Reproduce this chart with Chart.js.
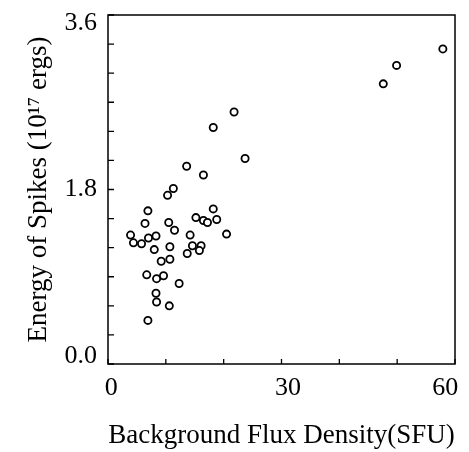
<!DOCTYPE html>
<html>
<head>
<meta charset="utf-8">
<script src="https://cdn.jsdelivr.net/npm/chart.js@4"></script>
<style>
html,body{margin:0;padding:0;background:#fff;}
#wrap{width:469px;height:452px;}
</style>
</head>
<body>
<div id="wrap"><canvas id="c" width="469" height="452"></canvas></div>
<script>
// Background flux density (SFU)
const fluxValues = [3.9, 4.4, 5.8, 7.0, 8.3, 8.0, 6.4, 6.9, 10.5, 11.5, 10.7, 9.2, 10.7, 6.7, 8.4, 9.6, 12.3, 8.3, 8.4, 10.6, 6.9,
  10.3, 11.3, 13.6, 16.5, 18.2, 21.8, 23.7, 15.2, 18.2, 16.5, 17.2, 18.8, 14.2, 20.5, 14.6, 16.1, 15.8, 13.7, 47.6, 49.9, 57.9];
// Energy of spikes (10^17 ergs)
const energyValues = [1.33, 1.25, 1.24, 1.30, 1.32, 1.18, 1.45, 1.58, 1.46, 1.38, 1.21, 1.06, 1.08, 0.92, 0.88, 0.91, 0.83, 0.73, 0.64, 0.60, 0.45,
  1.74, 1.81, 2.04, 1.95, 2.44, 2.60, 2.12, 1.51, 1.60, 1.48, 1.46, 1.49, 1.33, 1.34, 1.22, 1.22, 1.17, 1.14, 2.89, 3.08, 3.25];
const xTickLabels = ['0', '30', '60'];
const yTickLabels = ['0.0', '1.8', '3.6'];
const xTitle = 'Background Flux Density(SFU)';
const yTitle = 'Energy of Spikes (10\u00B9\u2077 ergs)';

const points = fluxValues.map((x, i) => ({x: x, y: energyValues[i]}));
const serif = "'Liberation Serif', 'DejaVu Serif', serif";

const framePlugin = {
  id: 'frame',
  afterDraw(chart) {
    const ctx = chart.ctx;
    const a = chart.chartArea;
    const xs = chart.scales.x, ys = chart.scales.y;
    ctx.save();
    ctx.strokeStyle = '#000';
    ctx.lineWidth = 1.5;
    ctx.strokeRect(a.left, a.top, a.right - a.left, a.bottom - a.top);
    ctx.lineWidth = 1.3;
    ctx.beginPath();
    ys.ticks.forEach(t => {
      const py = ys.getPixelForValue(t.value);
      ctx.moveTo(a.left, py); ctx.lineTo(a.left + 6, py);
    });
    xs.ticks.forEach(t => {
      const px = xs.getPixelForValue(t.value);
      ctx.moveTo(px, a.bottom); ctx.lineTo(px, a.bottom - 5);
    });
    ctx.stroke();
    ctx.restore();
  }
};

new Chart(document.getElementById('c'), {
  type: 'scatter',
  data: {
    datasets: [{
      data: points,
      pointStyle: 'circle',
      pointRadius: 3.6,
      pointBorderWidth: 1.8,
      pointBackgroundColor: '#fff',
      pointBorderColor: '#000'
    }]
  },
  options: {
    responsive: false,
    animation: false,
    devicePixelRatio: 1,
    layout: {padding: {top: 0, right: 0, left: 0, bottom: 0}},
    plugins: {legend: {display: false}, tooltip: {enabled: false}},
    scales: {
      x: {
        type: 'linear', min: 0, max: 60,
        afterFit(s) { s.height = 88; s.paddingLeft = 0; s.paddingRight = 14; },
        grid: {display: false, drawTicks: false},
        border: {display: false},
        ticks: {
          stepSize: 10, padding: 9, color: '#000', maxRotation: 0, autoSkip: false,
          font: {family: serif, size: 26},
          callback: v => {
            const s = String(v);
            if (!xTickLabels.includes(s)) return '';
            if (v === 0) return ' ' + s;
            if (v === 30) return '  ' + s;
            if (v === 60) return s + '   ';
            return s;
          }
        },
        title: {display: true, text: xTitle, color: '#000', font: {family: serif, size: 27}, padding: {top: 0, bottom: 0}}
      },
      y: {
        type: 'linear', min: 0, max: 3.6,
        afterFit(s) { s.width = 108; s.paddingTop = 15; s.paddingBottom = 0; },
        grid: {display: false, drawTicks: false},
        border: {display: false},
        ticks: {
          stepSize: 0.3, padding: 11, color: '#000', autoSkip: false,
          font: {family: serif, size: 26, lineHeight: 0.62},
          callback: v => {
            const s = Number(v).toFixed(1);
            if (!yTickLabels.includes(s)) return '';
            if (s === yTickLabels[yTickLabels.length - 1]) return ['', s];
            if (s === yTickLabels[0]) return [s, ''];
            return s;
          }
        },
        title: {display: true, text: yTitle, color: '#000', font: {family: serif, size: 27}, padding: {top: 23, bottom: 0}}
      }
    }
  },
  plugins: [framePlugin]
});
</script>
</body>
</html>
